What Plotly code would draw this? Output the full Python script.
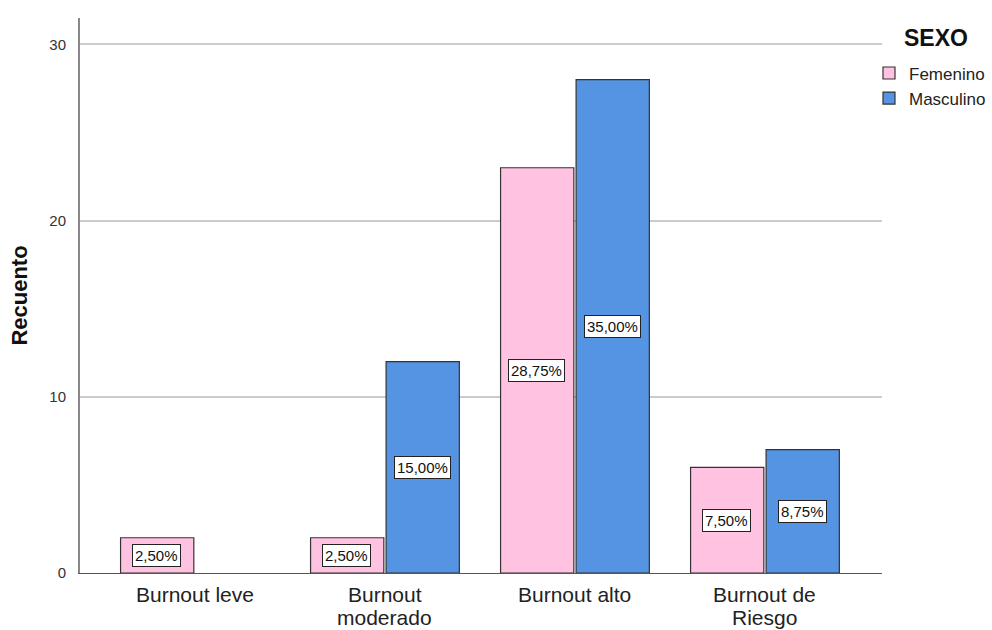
import plotly.graph_objects as go

categories = ["Burnout leve", "Burnout<br>moderado", "Burnout alto", "Burnout de<br>Riesgo"]
femenino = [2, 2, 23, 6]
masculino = [0, 12, 28, 7]
fem_pct = ["2,50%", "2,50%", "28,75%", "7,50%"]
mas_pct = ["", "15,00%", "35,00%", "8,75%"]

PINK = "#FFC3E1"
BLUE = "#5594E3"
FONT = "Liberation Sans, Arial, sans-serif"

fig = go.Figure()
fig.add_trace(go.Bar(name="Femenino", x=list(range(4)), y=femenino, marker=dict(color=PINK, line=dict(color="#333333", width=1.2))))
fig.add_trace(go.Bar(name="Masculino", x=list(range(4)), y=[v if v > 0 else None for v in masculino], marker=dict(color=BLUE, line=dict(color="#333333", width=1.2))))

off = 0.2
for i in range(4):
    for vals, labs, sgn in ((femenino, fem_pct, -1), (masculino, mas_pct, 1)):
        if labs[i]:
            fig.add_annotation(x=i + sgn * off, y=vals[i] / 2, xref="x", yref="y", text=labs[i], showarrow=False,
                               bgcolor="white", bordercolor="#222222", borderwidth=1, borderpad=2,
                               font=dict(family=FONT, size=15, color="#111111"))

# category labels (one text per line, tighter line spacing like the original)
for i, cat in enumerate(categories):
    for j, line in enumerate(cat.split("<br>")):
        fig.add_annotation(x=i, y=0, xref="x", yref="y", text=line, showarrow=False, yanchor="middle",
                           yshift=-(21 + 23 * j), font=dict(family=FONT, size=21, color="#222222"))

# legend title (paper coords relative to plot area 80..882 x 18..573)
fig.add_annotation(x=(936 - 80) / 802, y=(573 - 38) / 555, xref="paper", yref="paper", text="<b>SEXO</b>",
                   showarrow=False, xanchor="center", yanchor="middle",
                   font=dict(family=FONT, size=23, color="#111111"))

fig.update_layout(
    width=992, height=630, plot_bgcolor="white", paper_bgcolor="white",
    margin=dict(l=80, r=110, t=18, b=57, autoexpand=False),
    barmode="group", bargap=0.205, bargroupgap=0.03,
    font=dict(family=FONT, color="#222222"),
    legend=dict(xref="container", yref="container", x=0.876, xanchor="left", y=0.912, yanchor="top",
                font=dict(size=17, color="#222222"),
                itemwidth=30, tracegroupgap=0, bgcolor="rgba(0,0,0,0)"),
    xaxis=dict(tickmode="array", tickvals=list(range(4)), ticktext=categories, range=[-0.605, 3.616],
               showline=True, linecolor="#555555", linewidth=1, showgrid=False, automargin=False,
               showticklabels=False, ticks=""),
    yaxis=dict(range=[0, 31.5], tickvals=[0, 10, 20, 30], showgrid=True, gridcolor="#CCCCCC", gridwidth=2,
               showline=True, linecolor="#888888", linewidth=2, zeroline=False, automargin=False,
               tickfont=dict(size=15, color="#333333"), ticks="", ticklabelstandoff=9,
               title=dict(text="<b>Recuento</b>", font=dict(size=22, color="#111111"), standoff=16)),
)

fig.write_html("out.html")
